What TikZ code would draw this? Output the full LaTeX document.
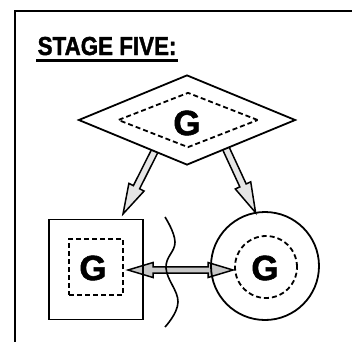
\documentclass[tikz,border=0pt]{standalone}
\usepackage{graphicx}
\usepackage{fontspec}
\setmainfont{Liberation Sans}[BoldFeatures={FakeBold=1.6}]
\usetikzlibrary{shapes.geometric,calc}

\tikzset{
  outline/.style={draw, line width=1.8pt, inner sep=0pt},
  dashline/.style={draw, line width=1.8pt, dash pattern=on 5pt off 3pt, inner sep=0pt},
  letter/.style={font=\fontsize{35}{35}\selectfont\bfseries, inner sep=0pt},
  hollow/.style={draw, line width=1.5pt, line join=miter, fill=black!10},
  hollowtwo/.style={draw, line width=1.5pt, line join=miter, fill=black!22},
  frameline/.style={line width=2pt},
}

% single-headed outlined arrow from #1 to #2 (shaft half width 3.5pt, head 30pt long, 8.5pt half width)
\newcommand\hollowarrow[2]{%
  \draw[hollow] let \p1=($(#2)-(#1)$), \n1={atan2(\y1,\x1)} in
    ($(#1)+(\n1+90:3.5pt)$)
    -- ($(#2)+(\n1+180:30pt)+(\n1+90:3.5pt)$)
    -- ($(#2)+(\n1+180:30pt)+(\n1+90:8.5pt)$)
    -- (#2)
    -- ($(#2)+(\n1+180:30pt)+(\n1-90:8.5pt)$)
    -- ($(#2)+(\n1+180:30pt)+(\n1-90:3.5pt)$)
    -- ($(#1)+(\n1-90:3.5pt)$) -- cycle;
}
% double-headed outlined arrow between #1 and #2
\newcommand\hollowdouble[2]{%
  \draw[hollowtwo] let \p1=($(#2)-(#1)$), \n1={atan2(\y1,\x1)} in
    (#1)
    -- ($(#1)+(\n1:25pt)+(\n1+90:7.5pt)$)
    -- ($(#1)+(\n1:25pt)+(\n1+90:3.2pt)$)
    -- ($(#2)+(\n1+180:25pt)+(\n1+90:3.2pt)$)
    -- ($(#2)+(\n1+180:25pt)+(\n1+90:7.5pt)$)
    -- (#2)
    -- ($(#2)+(\n1+180:25pt)+(\n1-90:7.5pt)$)
    -- ($(#2)+(\n1+180:25pt)+(\n1-90:3.2pt)$)
    -- ($(#1)+(\n1:25pt)+(\n1-90:3.2pt)$)
    -- ($(#1)+(\n1:25pt)+(\n1-90:7.5pt)$) -- cycle;
}

\begin{document}
\begin{tikzpicture}[x=1pt,y=-1pt]
\useasboundingbox (0,0) rectangle (352,341);

% frame: top and left edges
\coordinate (ftop) at (15,11);
\coordinate (fright) at (354,11);
\coordinate (fbot) at (15,343);
\draw[frameline] (fright) -- (ftop) -- (fbot);

% heading
\node[anchor=base west, inner xsep=1.5pt, inner ysep=5pt,
      font=\fontsize{26}{26}\selectfont\bfseries] (title) at (36,55)
      {\scalebox{0.86}[1]{STAGE FIVE:}};
\draw[line width=2.2pt] (title.south west) -- (title.south east);

% shape positions
\coordinate (dc) at (187,120);
\coordinate (sc) at (96,269.5);
\coordinate (cc) at (265,266);

% outer shapes placed first so arrows can refer to them
\path (sc) node[rectangle, minimum width=94pt, minimum height=100pt, inner sep=0pt] (sq) {};
\path (cc) node[circle, minimum size=108pt, inner sep=0pt] (cir) {};
\path (dc) node[diamond, minimum width=217pt, minimum height=90pt, inner sep=0pt] (dia) {};

% arrow ends
\coordinate (lt) at (123,214);
\coordinate (rt) at (cir.100);
\coordinate (ls) at ($(dia.west)!0.70!(dia.south)!-8pt!(lt)$);
\coordinate (rs) at ($(dia.east)!0.64!(dia.south)!-8pt!(rt)$);
\coordinate (dl) at (128,270);
\coordinate (dr) at (233,270);

% arrows
\hollowarrow{ls}{lt}
\hollowarrow{rs}{rt}
\hollowdouble{dl}{dr}

% diamond with dashed inner diamond
\node[diamond, outline, fill=white, minimum width=217pt, minimum height=90pt] (dmain) at (dc) {};
\node[diamond, dashline, minimum width=140pt, minimum height=55pt] (dinner) at (188,120) {};
\node[letter] (g1) at (187,123) {G};

% square with dashed inner square
\node[rectangle, outline, minimum width=94pt, minimum height=100pt] (smain) at (sc) {};
\node[rectangle, dashline, minimum width=54pt, minimum height=56pt] (sinner) at (96,267) {};
\node[letter] (g2) at (93,268) {G};

% circle with dashed inner circle
\node[circle, outline, minimum size=108pt] (cmain) at (cc) {};
\node[circle, dashline, minimum size=62pt] (cinner) at (266,267) {};
\node[letter] (g3) at (265,268) {G};

% wavy barrier line
\draw[line width=1.6pt] plot[smooth, tension=0.7]
  coordinates {(165,217) (175,242) (166,268) (178,302) (165,327)};
\end{tikzpicture}
\end{document}
